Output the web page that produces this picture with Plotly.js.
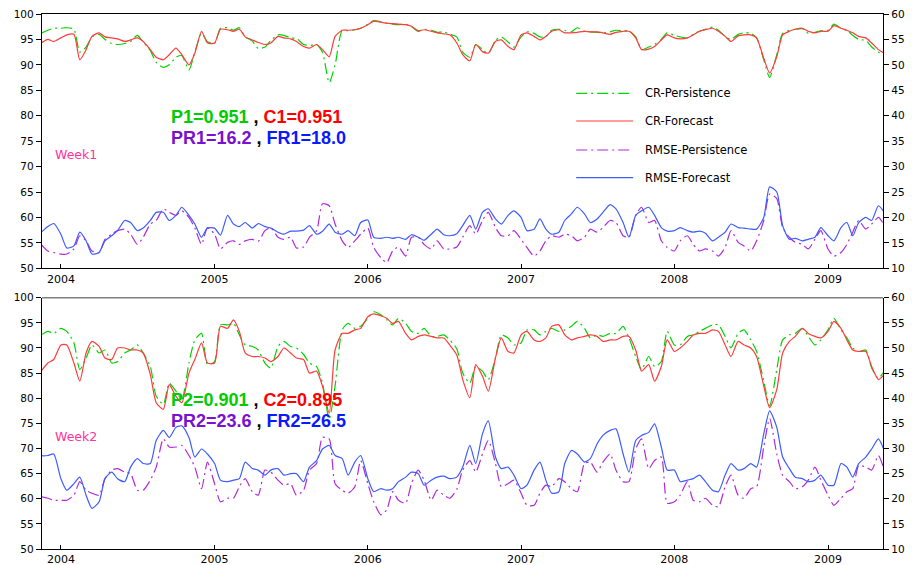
<!DOCTYPE html>
<html>
<head>
<meta charset="utf-8">
<script src="https://cdn.plot.ly/plotly-3.0.1.min.js"></script>
<style>html,body{margin:0;padding:0;background:#fff;}#chart{width:912px;height:565px;}</style>
</head>
<body>
<div id="chart"></div>
<script>
// Semi-monthly dates
const dates = [
"2003-11-15","2003-12-01","2003-12-15",
"2004-01-01","2004-01-15","2004-02-01","2004-02-15","2004-03-01","2004-03-15","2004-04-01","2004-04-15","2004-05-01","2004-05-15","2004-06-01","2004-06-15","2004-07-01","2004-07-15","2004-08-01","2004-08-15","2004-09-01","2004-09-15","2004-10-01","2004-10-15","2004-11-01","2004-11-15","2004-12-01","2004-12-15",
"2005-01-01","2005-01-15","2005-02-01","2005-02-15","2005-03-01","2005-03-15","2005-04-01","2005-04-15","2005-05-01","2005-05-15","2005-06-01","2005-06-15","2005-07-01","2005-07-15","2005-08-01","2005-08-15","2005-09-01","2005-09-15","2005-10-01","2005-10-15","2005-11-01","2005-11-15","2005-12-01","2005-12-15",
"2006-01-01","2006-01-15","2006-02-01","2006-02-15","2006-03-01","2006-03-15","2006-04-01","2006-04-15","2006-05-01","2006-05-15","2006-06-01","2006-06-15","2006-07-01","2006-07-15","2006-08-01","2006-08-15","2006-09-01","2006-09-15","2006-10-01","2006-10-15","2006-11-01","2006-11-15","2006-12-01","2006-12-15",
"2007-01-01","2007-01-15","2007-02-01","2007-02-15","2007-03-01","2007-03-15","2007-04-01","2007-04-15","2007-05-01","2007-05-15","2007-06-01","2007-06-15","2007-07-01","2007-07-15","2007-08-01","2007-08-15","2007-09-01","2007-09-15","2007-10-01","2007-10-15","2007-11-01","2007-11-15","2007-12-01","2007-12-15",
"2008-01-01","2008-01-15","2008-02-01","2008-02-15","2008-03-01","2008-03-15","2008-04-01","2008-04-15","2008-05-01","2008-05-15","2008-06-01","2008-06-15","2008-07-01","2008-07-15","2008-08-01","2008-08-15","2008-09-01","2008-09-15","2008-10-01","2008-10-15","2008-11-01","2008-11-15","2008-12-01","2008-12-15",
"2009-01-01","2009-01-15","2009-02-01","2009-02-15","2009-03-01","2009-03-15","2009-04-01","2009-04-15","2009-05-01","2009-05-15"];

// Week 1
const crPers1 = [96.2,96.8,97.2,97.2,97.3,97.0,92.5,93.5,95.5,96.0,
 95.0,94.2,94.0,94.2,94.6,95.8,94.5,92.8,90.5,89.5,
 90.0,91.5,91.8,89.0,92.5,96.2,94.6,94.2,97.2,97.3,
 96.8,97.3,95.5,94.7,93.2,93.5,94.8,95.9,95.8,95.3,
 95.2,94.0,93.8,94.0,92.5,86.5,90.0,96.8,96.7,96.9,
 97.2,98.0,98.7,98.5,98.2,98.0,97.9,98.0,97.5,96.6,
 97.0,96.8,96.4,96.5,96.0,95.5,92.5,91.5,94.0,93.0,
 92.2,94.8,95.5,94.5,93.5,95.5,96.5,96.2,95.5,95.5,
 96.8,97.0,96.8,96.5,97.3,96.6,96.5,96.4,96.3,96.5,
 96.8,96.7,96.7,95.5,93.0,93.5,94.0,95.0,96.3,95.8,
 95.5,95.3,96.0,96.6,97.0,97.4,96.8,95.6,95.0,96.0,
 96.3,96.2,95.3,91.0,87.5,92.0,96.2,96.8,97.0,97.1,
 96.2,96.4,96.7,96.8,98.0,97.2,96.8,95.8,95.0,94.8,
 93.5,92.5,92.0];
const crFcst1 = [94.3,95.0,94.6,95.3,95.9,96.0,91.0,93.0,95.6,96.3,
 95.5,95.3,95.1,94.6,94.9,95.3,94.6,93.0,91.5,91.0,
 92.0,93.3,92.0,90.0,92.3,96.6,94.3,94.3,97.0,96.9,
 96.6,97.0,95.5,94.9,94.4,94.0,94.3,95.6,95.3,95.1,
 94.6,93.6,93.3,94.0,93.0,91.6,95.6,96.8,96.8,96.9,
 97.2,97.9,98.6,98.4,98.2,98.1,98.0,97.9,97.6,96.7,
 96.9,96.6,96.3,96.1,95.9,94.3,92.0,90.8,94.0,92.6,
 92.3,94.6,94.9,93.6,93.0,95.9,96.3,95.6,94.9,95.6,
 96.6,96.9,96.3,96.3,96.4,96.6,96.5,96.5,96.3,96.0,
 96.4,96.6,96.6,95.3,93.0,93.1,93.6,94.9,95.9,95.3,
 95.1,95.3,95.9,96.6,96.9,97.2,96.6,95.6,94.6,95.7,
 95.9,95.9,95.3,91.3,88.4,91.6,95.9,96.6,97.0,97.2,
 96.6,96.3,96.6,96.6,97.7,97.2,96.8,96.3,95.6,95.3,
 94.3,93.0,92.3];
const rmsePers1 = [14.7,13.4,13.1,12.8,12.8,13.8,16.4,15.4,13.4,13.1,
 15.7,16.7,17.4,17.7,16.7,14.7,16.1,18.7,19.4,21.7,
 21.0,20.4,21.3,20.0,17.9,14.7,18.0,16.7,13.8,15.1,
 15.4,14.7,15.4,15.7,15.3,17.4,18.0,16.1,15.7,16.1,
 14.0,14.2,16.1,17.4,22.7,22.3,18.7,15.4,14.1,15.4,
 16.7,17.9,14.1,12.1,11.1,13.4,14.2,12.4,16.1,16.1,
 14.7,13.8,15.4,13.8,13.8,14.2,16.1,18.4,16.7,19.4,
 21.0,18.0,16.4,16.4,17.4,15.7,14.1,12.4,13.4,15.4,
 16.4,16.1,16.7,16.4,15.4,16.1,17.7,17.1,18.0,19.4,
 19.0,16.4,16.1,20.4,22.0,19.0,19.4,15.4,14.1,13.4,
 15.4,16.4,14.7,13.4,13.8,13.4,12.4,14.1,17.4,15.1,
 14.4,13.4,15.4,19.4,24.6,23.7,18.0,16.1,15.1,14.7,
 13.8,15.7,17.4,13.8,12.4,13.1,14.7,17.1,19.4,17.7,
 18.7,20.0,18.5];
const rmseFcst1 = [17.1,18.2,18.8,16.7,14.0,14.4,17.1,15.4,12.8,13.1,
 15.4,16.4,17.4,19.4,19.0,17.4,17.9,19.4,21.0,21.0,
 19.4,20.4,22.0,20.4,18.7,16.1,17.9,17.9,16.5,20.4,
 18.7,18.2,19.0,17.9,18.8,18.2,17.9,17.1,16.7,17.3,
 17.3,17.5,18.4,16.7,17.3,18.7,17.1,16.7,17.4,16.4,
 19.0,19.5,16.1,15.9,16.1,15.9,16.1,15.7,16.6,16.1,
 15.5,16.7,17.7,16.6,16.4,16.8,18.4,20.4,17.7,21.0,
 21.7,19.7,18.7,20.4,21.3,20.0,17.4,17.7,19.7,17.7,
 16.7,17.1,19.4,20.7,22.0,20.7,19.0,19.7,21.0,22.5,
 21.7,19.0,16.1,20.4,21.3,22.0,20.4,18.0,17.3,17.4,
 18.0,17.4,17.1,17.3,16.9,15.4,16.1,17.1,18.7,18.0,
 17.9,17.7,17.7,20.0,26.0,25.0,18.4,15.7,15.9,15.4,
 15.7,16.1,18.0,16.4,15.4,18.0,19.0,16.4,19.0,20.0,
 19.4,22.3,21.0];

// Week 2
const crPers2 = [92.6,93.3,92.9,93.9,93.3,91.0,85.7,88.0,90.6,89.0,
 89.6,87.0,87.3,89.0,89.6,90.6,89.0,86.3,80.4,78.8,
 83.0,81.4,79.7,87.0,91.6,92.9,86.7,87.3,94.6,94.6,
 94.9,92.6,90.6,90.3,89.6,87.0,86.0,90.3,91.3,90.3,
 90.0,88.7,87.0,86.3,83.0,75.8,82.4,93.6,94.9,93.9,
 94.3,95.9,97.2,96.6,95.6,94.6,95.9,94.9,93.3,92.9,
 93.9,92.3,92.3,92.6,91.6,89.8,85.0,83.0,86.3,85.4,
 83.7,88.0,92.6,92.0,90.6,91.0,93.6,93.6,92.6,93.3,
 93.9,93.3,93.6,94.3,95.3,93.9,92.0,92.6,92.3,92.9,
 92.9,94.3,92.0,88.3,85.7,88.3,86.3,87.3,93.3,90.6,
 90.6,92.3,92.6,93.3,93.9,94.6,94.6,92.3,90.0,92.9,
 93.6,91.6,89.3,83.4,78.4,85.7,91.6,92.6,92.9,93.9,
 92.3,90.6,91.6,93.6,95.9,93.6,92.0,90.0,89.3,89.6,
 86.0,84.0,85.4];
const crFcst2 = [85.4,87.0,87.7,90.6,90.6,87.0,83.4,89.0,91.3,90.3,
 88.0,87.7,90.0,90.0,89.6,89.6,89.0,84.7,79.1,77.8,
 82.7,80.4,79.1,85.0,87.7,91.0,87.0,87.0,94.3,93.9,
 95.6,93.3,89.0,88.3,88.3,88.0,87.3,88.3,90.0,89.0,
 88.0,87.7,85.0,85.4,82.4,77.0,89.6,92.9,92.9,93.6,
 93.9,96.2,96.8,96.4,95.9,94.9,95.3,92.9,91.6,92.3,
 92.6,92.3,92.0,92.0,90.6,88.6,83.7,80.1,86.7,84.4,
 81.4,88.0,92.0,89.3,89.0,92.6,93.3,91.6,91.3,92.0,
 94.3,94.6,92.6,91.6,92.0,92.3,92.6,92.3,91.3,91.6,
 91.6,92.3,92.3,89.6,85.4,86.7,83.4,86.3,91.6,89.3,
 90.0,91.3,92.6,92.9,92.9,93.6,93.3,90.6,88.3,91.3,
 90.6,90.0,88.3,82.4,78.1,81.7,89.0,91.3,92.3,93.9,
 92.9,92.3,92.0,93.3,95.3,93.9,91.6,89.6,89.3,89.3,
 86.3,83.7,84.7];
const rmsePers2 = [20.4,20.1,19.7,19.7,19.7,20.7,23.4,21.7,21.1,20.7,
 24.0,25.7,26.0,25.3,25.0,21.7,21.7,23.7,26.3,31.9,
 30.3,30.3,30.6,28.6,26.3,22.0,27.3,23.0,19.4,20.1,
 20.1,22.4,24.0,21.4,20.7,25.7,25.3,23.7,22.7,23.0,
 20.7,21.7,25.7,27.0,32.2,31.9,23.0,21.7,21.1,22.4,
 27.6,23.0,19.4,16.8,17.8,21.4,19.7,19.1,23.0,25.7,
 23.7,19.7,21.7,20.7,20.1,21.9,25.7,27.6,25.3,28.9,
 31.6,27.0,22.4,23.0,23.7,21.1,18.7,18.7,21.1,22.7,
 22.4,24.0,23.4,22.0,21.4,27.0,27.3,25.3,27.3,28.9,
 25.7,23.4,23.4,29.9,31.9,26.0,27.6,28.3,19.1,19.4,
 20.7,23.4,19.7,19.4,20.1,18.7,18.4,22.4,24.7,20.7,
 20.1,22.0,22.4,30.3,36.0,28.9,24.7,23.4,22.0,22.4,
 23.7,26.3,23.7,20.7,18.7,20.1,21.4,22.0,26.6,26.3,
 25.7,28.6,25.7];
const rmseFcst2 = [28.5,28.6,28.9,24.0,21.7,23.0,24.3,20.7,18.1,19.4,
 24.0,25.3,24.0,23.4,26.3,28.0,27.0,27.0,31.6,33.6,
 32.2,34.2,34.5,32.2,28.3,29.9,28.9,27.0,23.7,23.4,
 23.7,24.0,27.3,26.0,25.7,24.7,25.7,26.0,24.7,25.0,
 25.0,23.4,26.3,27.6,29.9,30.6,28.6,28.0,24.7,27.3,
 28.6,24.0,21.4,22.0,21.7,22.0,23.4,24.3,25.3,25.0,
 22.7,23.7,24.3,24.5,24.0,24.3,26.3,30.6,27.0,32.9,
 35.5,28.3,26.0,26.3,24.7,22.0,22.7,25.7,27.3,23.7,
 21.1,21.4,27.0,29.6,28.9,27.3,28.0,30.9,32.6,33.6,
 33.9,28.9,25.3,31.6,32.6,33.2,34.9,30.3,25.7,25.7,
 23.4,23.7,24.0,24.7,23.4,21.7,21.4,24.7,27.0,25.7,
 26.0,27.0,26.3,32.9,37.5,34.2,28.3,26.0,24.3,24.0,
 23.4,23.7,24.7,22.7,22.7,27.0,26.3,24.3,27.0,28.3,
 29.9,31.9,29.6];

const seriesNames = ["CR-Persistence","CR-Forecast","RMSE-Persistence","RMSE-Forecast"];
const panelLabels = ["Week1","Week2"];
const statsLine1 = [["P1=0.951","C1=0.951"],["P2=0.901","C2=0.895"]];
const statsLine2 = [["PR1=16.2","FR1=18.0"],["PR2=23.6","FR2=26.5"]];

const colGreen = "#00d400", colRed = "#ff3b3b", colPurple = "#b22ad8", colBlue = "#3d5cff";
const dashDot = "11px,4px,2px,4px";

function tr(y, name, xa, ya, color, dash) {
  return {x: dates, y: y, name: name, xaxis: xa, yaxis: ya, type: "scatter", mode: "lines",
          line: {color: color, width: 1.2, dash: dash, shape: "spline", smoothing: 0.6}, hoverinfo: "skip"};
}
const data = [
  tr(crPers1, seriesNames[0], "x", "y", colGreen, dashDot),
  tr(crFcst1, seriesNames[1], "x", "y", colRed, "solid"),
  tr(rmsePers1, seriesNames[2], "x", "y2", colPurple, dashDot),
  tr(rmseFcst1, seriesNames[3], "x", "y2", colBlue, "solid"),
  tr(crPers2, seriesNames[0], "x2", "y3", colGreen, dashDot),
  tr(crFcst2, seriesNames[1], "x2", "y3", colRed, "solid"),
  tr(rmsePers2, seriesNames[2], "x2", "y4", colPurple, dashDot),
  tr(rmseFcst2, seriesNames[3], "x2", "y4", colBlue, "solid")
];

const tickFont = {family: "DejaVu Sans", size: 10.5, color: "#000"};
const xRange = ["2003-11-17", "2009-05-12"];
function xax(anchor, mirror) {
  return {anchor: anchor, domain: [0, 1], type: "date", range: xRange, tick0: "2004-01-01", dtick: "M12",
          tickformat: "%Y", ticks: "inside", ticklen: 4, tickcolor: "#000", showgrid: false, zeroline: false,
          showline: true, linecolor: "#000", linewidth: 1.2, mirror: mirror, tickfont: {family: "DejaVu Sans", size: 11, color: "#000"}};
}
function yl(anchor, domain) {
  return {anchor: anchor, domain: domain, range: [50, 100], dtick: 5, tick0: 50, ticks: "outside", ticklen: 5,
          tickcolor: "#000", showgrid: false, zeroline: false, showline: true, linecolor: "#000", linewidth: 1.2,
          tickfont: tickFont};
}
function yr(anchor, over) {
  return {anchor: anchor, overlaying: over, side: "right", range: [10, 60], dtick: 5, tick0: 10, ticks: "outside", ticklen: 5,
          tickcolor: "#000", showgrid: false, zeroline: false, showline: true, linecolor: "#000", linewidth: 1.2,
          tickfont: tickFont};
}
const topDom = [0.5247, 1], botDom = [0, 0.4697];

const annotations = [];
const panelY = [{s1: 0.8075, s2: 0.768, wk: 0.7375}, {s1: 0.2794, s2: 0.2393, wk: 0.21}];
for (let p = 0; p < 2; p++) {
  annotations.push({xref: "paper", yref: "paper", x: 0.151, y: panelY[p].s1, xanchor: "left", yanchor: "middle", showarrow: false,
    font: {family: "Liberation Sans", size: 18, color: "#000"},
    text: '<b><span style="color:#00cc00">' + statsLine1[p][0] + '</span> , <span style="color:#ff0000">' + statsLine1[p][1] + '</span></b>'});
  annotations.push({xref: "paper", yref: "paper", x: 0.151, y: panelY[p].s2, xanchor: "left", yanchor: "middle", showarrow: false,
    font: {family: "Liberation Sans", size: 18, color: "#000"},
    text: '<b><span style="color:#7a10d0">' + statsLine2[p][0] + '</span> , <span style="color:#0a1aff">' + statsLine2[p][1] + '</span></b>'});
  annotations.push({xref: "paper", yref: "paper", x: 0.0135, y: panelY[p].wk, xanchor: "left", yanchor: "middle", showarrow: false,
    font: {family: "DejaVu Sans", size: 12.5, color: "#ff3399"}, text: panelLabels[p]});
}
const legY = [0.8518, 0.8, 0.7458, 0.694];
const legCol = [colGreen, colRed, colPurple, colBlue];
const legDash = [dashDot, "solid", dashDot, "solid"];
const shapes = [];
for (let i = 0; i < 4; i++) {
  shapes.push({type: "line", xref: "paper", yref: "paper", x0: 0.6352, x1: 0.703, y0: legY[i], y1: legY[i],
               line: {color: legCol[i], width: 1.2, dash: legDash[i]}});
  annotations.push({xref: "paper", yref: "paper", x: 0.7145, y: legY[i], xanchor: "left", yanchor: "middle", showarrow: false,
    font: {family: "DejaVu Sans", size: 11.5, color: "#000"}, text: seriesNames[i]});
}
shapes.push({type: "line", xref: "paper", yref: "paper", x0: 0, x1: 1, y0: botDom[1], y1: botDom[1],
             line: {color: "#808080", width: 1.5}});

const layout = {
  width: 912, height: 565,
  margin: {l: 42, r: 29, t: 14, b: 16},
  paper_bgcolor: "#fff", plot_bgcolor: "#fff",
  showlegend: false,
  xaxis: xax("y", true),
  yaxis: yl("x", topDom),
  yaxis2: yr("x", "y"),
  xaxis2: xax("y3", false),
  yaxis3: yl("x2", botDom),
  yaxis4: yr("x2", "y3"),
  annotations: annotations,
  shapes: shapes
};
Plotly.newPlot("chart", data, layout, {staticPlot: true, displayModeBar: false});
</script>
</body>
</html>
